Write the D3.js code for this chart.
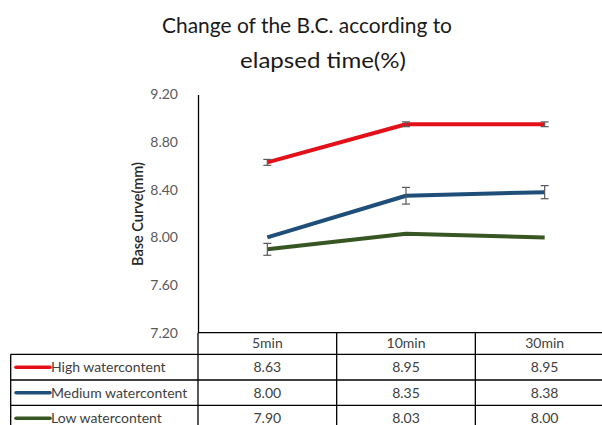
<!DOCTYPE html>
<html><head><meta charset="utf-8">
<script src="https://cdn.jsdelivr.net/npm/d3@7"></script>
<style>html,body{margin:0;padding:0;background:#fff;overflow:hidden}</style>
</head><body><svg id="c" width="602" height="425"></svg>
<script>
const categories = ["5min", "10min", "30min"];
const seriesNames = ["High watercontent", "Medium watercontent", "Low watercontent"];
const highValues = [8.63, 8.95, 8.95];
const mediumValues = [8.00, 8.35, 8.38];
const lowValues = [7.90, 8.03, 8.00];
const highErrors = [0.025, 0.02, 0.02];
const mediumErrors = [0, 0.07, 0.055];
const lowErrors = [0.05, 0, 0];
const yTicks = [7.2, 7.6, 8.0, 8.4, 8.8, 9.2];
const titleLines = ["Change of the B.C. according to", "elapsed time(%)"];
const yTitle = "Base Curve(mm)";
const colors = ["#e3101a", "#1f4e79", "#375623"];

const series = [
  {name: seriesNames[0], values: highValues, errors: highErrors, color: colors[0]},
  {name: seriesNames[1], values: mediumValues, errors: mediumErrors, color: colors[1]},
  {name: seriesNames[2], values: lowValues, errors: lowErrors, color: colors[2]}
];

const svg = d3.select("#c");
const font = "Lato, 'Open Sans', sans-serif";
const plotL = 198, plotR = 614, plotT = 94.5, plotB = 332.7;
const x = d3.scaleBand().domain(categories).range([plotL, plotR]);
const y = d3.scaleLinear().domain([7.2, 9.2]).range([plotB, plotT]);
const cx = c => x(c) + x.bandwidth() / 2;

// title
svg.append("text").attr("x", 162).attr("y", 33).attr("textLength", 290).attr("lengthAdjust", "spacingAndGlyphs")
  .attr("font-family", font).attr("font-size", 22).attr("fill", "#1a1a1a").text(titleLines[0]);
svg.append("text").attr("x", 240).attr("y", 68).attr("textLength", 166).attr("lengthAdjust", "spacingAndGlyphs")
  .attr("font-family", font).attr("font-size", 22).attr("fill", "#1a1a1a").text(titleLines[1]);

// y axis
const yAxis = d3.axisLeft(y).tickValues(yTicks).tickFormat(d3.format(".2f")).tickSize(0).tickPadding(20);
const ga = svg.append("g").attr("transform", `translate(${plotL},0)`).call(yAxis);
ga.select(".domain").attr("stroke", "#000").attr("stroke-width", 1.3);
ga.selectAll("text").attr("font-family", font).attr("font-size", 14).attr("fill", "#595959");

svg.append("text").attr("transform", `translate(143,214) rotate(-90)`).attr("text-anchor", "middle")
  .attr("font-family", font).attr("font-size", 14.5).attr("font-weight", 600).attr("fill", "#262626").text(yTitle);

// lines
const line = d3.line().x((d, i) => cx(categories[i])).y(d => y(d));
series.forEach(s => {
  svg.append("path").datum(s.values).attr("d", line).attr("fill", "none")
    .attr("stroke", s.color).attr("stroke-width", 4).attr("stroke-linejoin", "round");
});
// error bars
series.forEach(s => {
  s.values.forEach((v, i) => {
    const e = s.errors[i];
    if (!e) return;
    const xx = cx(categories[i]);
    const g = svg.append("g").attr("stroke", "#595959").attr("stroke-width", 1.2);
    g.append("line").attr("x1", xx).attr("x2", xx).attr("y1", y(v - e)).attr("y2", y(v + e));
    g.append("line").attr("x1", xx - 4).attr("x2", xx + 4).attr("y1", y(v - e)).attr("y2", y(v - e));
    g.append("line").attr("x1", xx - 4).attr("x2", xx + 4).attr("y1", y(v + e)).attr("y2", y(v + e));
  });
});

// data table
const rowTops = [332.7, 354.3, 380, 405.3, 431];
const tableLeft = 10.7;
const tg = svg.append("g").attr("stroke", "#000").attr("stroke-width", 1.3);
tg.append("line").attr("x1", plotL).attr("x2", plotR).attr("y1", rowTops[0]).attr("y2", rowTops[0]);
for (let r = 1; r < rowTops.length; r++) {
  tg.append("line").attr("x1", tableLeft).attr("x2", plotR).attr("y1", rowTops[r]).attr("y2", rowTops[r]);
}
const vx = [plotL].concat(categories.map(c => x(c) + x.bandwidth()));
vx.forEach(v => tg.append("line").attr("x1", v).attr("x2", v).attr("y1", rowTops[0]).attr("y2", 431));
tg.append("line").attr("x1", tableLeft).attr("x2", tableLeft).attr("y1", rowTops[1]).attr("y2", 431);

const tfs = 14;
categories.forEach(c => {
  svg.append("text").attr("x", cx(c)).attr("y", (rowTops[0] + rowTops[1]) / 2).attr("dy", "0.35em")
    .attr("text-anchor", "middle").attr("font-family", font).attr("font-size", tfs).attr("fill", "#404040").text(c);
});
series.forEach((s, r) => {
  const ym = (rowTops[r + 1] + rowTops[r + 2]) / 2;
  svg.append("line").attr("x1", 16).attr("x2", 50).attr("y1", ym).attr("y2", ym)
    .attr("stroke", s.color).attr("stroke-width", 3.5).attr("stroke-linecap", "round");
  svg.append("text").attr("x", 51).attr("y", ym).attr("dy", "0.35em")
    .attr("font-family", font).attr("font-size", tfs).attr("fill", "#404040").text(s.name);
  s.values.forEach((v, i) => {
    svg.append("text").attr("x", cx(categories[i])).attr("y", ym).attr("dy", "0.35em")
      .attr("text-anchor", "middle").attr("font-family", font).attr("font-size", tfs).attr("fill", "#404040")
      .text(v.toFixed(2));
  });
});
</script></body></html>
